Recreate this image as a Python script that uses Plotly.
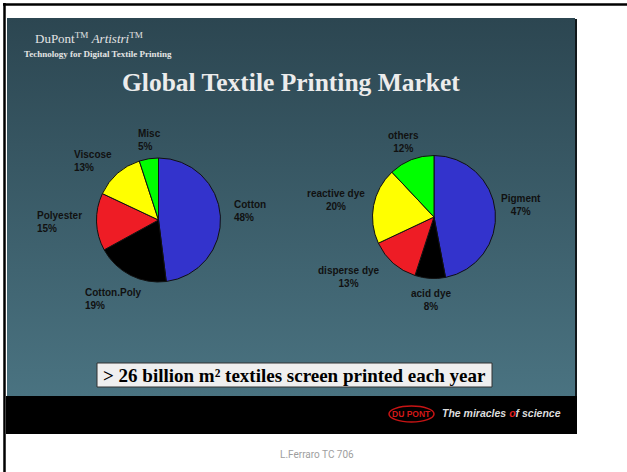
import plotly.graph_objects as go

# ---- data ----
fiber_labels = ["Cotton", "Cotton.Poly", "Polyester", "Viscose", "Misc"]
fiber_values = [48, 19, 15, 13, 5]
dye_labels = ["Pigment", "acid dye", "disperse dye", "reactive dye", "others"]
dye_values = [47, 8, 13, 20, 12]
slice_colors = ["#3333CC", "#000000", "#EE1C25", "#FFFF00", "#00FF00"]

W, H = 627, 472

# label placements (layout only)
fiber_label_pos = [(232, 211, "left", "left"), (83, 299, "left", "left"),
                   (35, 222, "left", "left"), (72, 161, "left", "left"),
                   (136, 140, "left", "left")]
dye_label_pos = [(521, 205, "center", "center"), (431, 300, "center", "center"),
                 (349, 277, "center", "center"), (336, 200, "center", "center"),
                 (403, 142, "center", "center")]


def pie_domain(cx, cy, r):
    return dict(x=[(cx - r) / W, (cx + r) / W], y=[1 - (cy + r) / H, 1 - (cy - r) / H])


fig = go.Figure()

# slide background with gradient (dark at top, lighter at bottom)
fig.add_trace(go.Scatter(
    x=[7, 575, 575, 7, 7], y=[18, 18, 396, 396, 18], mode="lines",
    fill="toself", line=dict(width=0),
    fillgradient=dict(type="vertical", colorscale=[[0, "#4a7381"], [1, "#2c4651"]]),
    hoverinfo="skip", showlegend=False))

for labels, values, (cx, cy, r) in [(fiber_labels, fiber_values, (158.5, 220, 62)),
                                     (dye_labels, dye_values, (434, 217, 61.5))]:
    fig.add_trace(go.Pie(
        labels=labels, values=values, sort=False, direction="clockwise", rotation=0,
        marker=dict(colors=slice_colors, line=dict(color="#111111", width=1)),
        textinfo="none", hoverinfo="skip", showlegend=False,
        domain=pie_domain(cx, cy, r)))

annotations = []
for labels, values, pos in [(fiber_labels, fiber_values, fiber_label_pos),
                            (dye_labels, dye_values, dye_label_pos)]:
    for lab, val, (x, y, xa, al) in zip(labels, values, pos):
        annotations.append(dict(
            x=x, y=y, xref="x", yref="y", xanchor=xa, yanchor="middle", align=al,
            text=f"<b>{lab}<br>{val}%</b>", showarrow=False,
            font=dict(family="Liberation Sans, Arial", size=10, color="#111111")))

serif = "Liberation Serif, Times New Roman"
annotations += [
    dict(x=33, y=38, xref="x", yref="y", xanchor="left", yanchor="middle",
         text="DuPont<sup>TM</sup> <i>Artistri</i><sup>TM</sup>", showarrow=False,
         font=dict(family=serif, size=13, color="#e4e4e4")),
    dict(x=22, y=54, xref="x", yref="y", xanchor="left", yanchor="middle",
         text="<b>Technology for Digital Textile Printing</b>", showarrow=False,
         font=dict(family=serif, size=9, color="#e4e4e4")),
    dict(x=291, y=82, xref="x", yref="y", xanchor="center", yanchor="middle",
         text="<b>Global Textile Printing Market</b>", showarrow=False,
         font=dict(family=serif, size=25.5, color="#ececec")),
    dict(x=294, y=375, xref="x", yref="y", xanchor="center", yanchor="middle",
         text="<b>&gt; 26 billion m² textiles screen printed each year</b>", showarrow=False,
         font=dict(family=serif, size=19, color="#000000")),
    dict(x=411.5, y=414, xref="x", yref="y", xanchor="center", yanchor="middle",
         text="<b>DU PONT</b>", showarrow=False,
         font=dict(family="Liberation Sans Narrow, Liberation Sans", size=8.5, color="#d01818")),
    dict(x=440, y=413, xref="x", yref="y", xanchor="left", yanchor="middle",
         text="<b><i>The miracles <span style='color:#e02020'>o</span>f science</i></b>",
         showarrow=False,
         font=dict(family="Liberation Sans, Arial", size=10.5, color="#dcdcdc")),
    dict(x=317, y=454, xref="x", yref="y", xanchor="center", yanchor="middle",
         text="L.Ferraro TC 706", showarrow=False,
         font=dict(family="Roboto", size=10, color="#9e9e9e")),
]

shapes = [
    dict(type="line", x0=3, x1=627, y0=4.5, y1=4.5, xref="x", yref="y",
         line=dict(color="#000000", width=2.5), layer="above"),
    dict(type="line", x0=4.5, x1=4.5, y0=3, y1=472, xref="x", yref="y",
         line=dict(color="#000000", width=2.5), layer="above"),
    dict(type="line", x0=576, x1=576, y0=19, y1=396, xref="x", yref="y",
         line=dict(color="#10171a", width=2), layer="above"),
    dict(type="rect", x0=6, x1=577, y0=396, y1=434, xref="x", yref="y",
         fillcolor="#000000", line=dict(width=0), layer="above"),
    dict(type="circle", x0=389, x1=434, y0=406, y1=422, xref="x", yref="y",
         fillcolor="rgba(0,0,0,0)", line=dict(color="#c81414", width=1.5), layer="above"),
    dict(type="rect", x0=97, x1=492, y0=363, y1=387, xref="x", yref="y",
         fillcolor="#efefef", line=dict(color="#333333", width=1), layer="above"),
]

fig.update_layout(
    width=W, height=H, margin=dict(l=0, r=0, t=0, b=0),
    paper_bgcolor="#ffffff", plot_bgcolor="#ffffff",
    xaxis=dict(range=[0, W], visible=False, fixedrange=True),
    yaxis=dict(range=[H, 0], visible=False, fixedrange=True),
    annotations=annotations, shapes=shapes, showlegend=False,
)

fig.write_html("out.html")
